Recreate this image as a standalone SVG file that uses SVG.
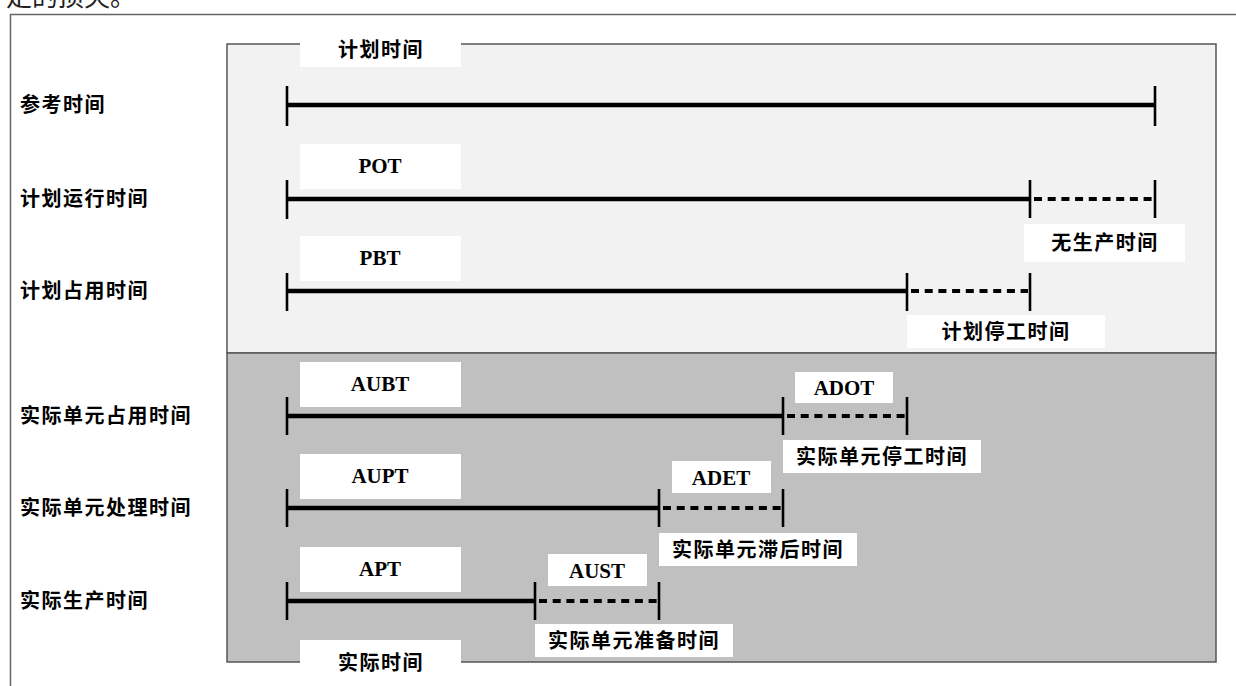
<svg xmlns="http://www.w3.org/2000/svg" width="1236" height="686" viewBox="0 0 1236 686">
<style>
.cn{font-family:"Noto Sans CJK SC","Noto Sans",sans-serif;font-size:20px;font-weight:bold;letter-spacing:1.5px;fill:#000}
.cnc{text-anchor:middle}
.en{font-family:"Liberation Serif","Times New Roman",serif;font-size:21px;font-weight:bold;fill:#000;text-anchor:middle}
.box{fill:#fff}
.solid{stroke:#000;stroke-width:4.5;fill:none}
.dot{stroke:#000;stroke-width:4;fill:none;stroke-dasharray:8 5.7}
.tick{stroke:#000;stroke-width:2.6;fill:none}
</style>
<rect x="0" y="0" width="1236" height="686" fill="#fff"/>
<text x="6" y="6" font-family="'Noto Sans CJK SC',sans-serif" font-size="26" fill="#222">定的损失。</text>
<rect id="frame" x="10.5" y="14.5" width="1240" height="700" fill="none" stroke="#666" stroke-width="1.5"/>
<g id="panel">
<rect x="227" y="44" width="989" height="309" fill="#f2f2f2" stroke="#555" stroke-width="1.5"/>
<rect x="227" y="353" width="989" height="309" fill="#c0c0c0" stroke="#555" stroke-width="1.5"/>
</g>
<g id="row-labels">
<text class="cn" x="20" y="112">参考时间</text>
<text class="cn" x="20" y="206">计划运行时间</text>
<text class="cn" x="20" y="298">计划占用时间</text>
<text class="cn" x="20" y="423">实际单元占用时间</text>
<text class="cn" x="20" y="515">实际单元处理时间</text>
<text class="cn" x="20" y="608">实际生产时间</text>
</g>
<g id="connectors">
<line class="solid" x1="287" y1="105" x2="1155" y2="105"/>
<line class="tick" x1="287" y1="86" x2="287" y2="126"/>
<line class="tick" x1="1155" y1="86" x2="1155" y2="126"/>
<line class="solid" x1="287" y1="199" x2="1030" y2="199"/>
<line class="dot" x1="1034" y1="199" x2="1152" y2="199"/>
<line class="tick" x1="287" y1="180" x2="287" y2="219"/>
<line class="tick" x1="1030" y1="180" x2="1030" y2="218"/>
<line class="tick" x1="1155" y1="180" x2="1155" y2="218"/>
<line class="solid" x1="287" y1="291" x2="907" y2="291"/>
<line class="dot" x1="911" y1="291" x2="1028" y2="291"/>
<line class="tick" x1="287" y1="273" x2="287" y2="311"/>
<line class="tick" x1="907" y1="273" x2="907" y2="311"/>
<line class="tick" x1="1030" y1="273" x2="1030" y2="311"/>
<line class="solid" x1="287" y1="416" x2="783" y2="416"/>
<line class="dot" x1="787" y1="416" x2="905" y2="416"/>
<line class="tick" x1="287" y1="397" x2="287" y2="435"/>
<line class="tick" x1="783" y1="397" x2="783" y2="435"/>
<line class="tick" x1="907" y1="397" x2="907" y2="435"/>
<line class="solid" x1="287" y1="508" x2="659" y2="508"/>
<line class="dot" x1="663" y1="508" x2="781" y2="508"/>
<line class="tick" x1="287" y1="489" x2="287" y2="527"/>
<line class="tick" x1="659" y1="489" x2="659" y2="527"/>
<line class="tick" x1="783" y1="489" x2="783" y2="527"/>
<line class="solid" x1="287" y1="601" x2="535" y2="601"/>
<line class="dot" x1="539" y1="601" x2="657" y2="601"/>
<line class="tick" x1="287" y1="582" x2="287" y2="620"/>
<line class="tick" x1="535" y1="582" x2="535" y2="620"/>
<line class="tick" x1="659" y1="582" x2="659" y2="620"/>
</g>
<g id="plan-time"><rect class="box" x="300" y="30" width="161" height="37"/><text class="cn cnc" x="381" y="57">计划时间</text></g>
<g id="actual-time"><rect class="box" x="300" y="640" width="161" height="46"/><text class="cn cnc" x="381" y="670">实际时间</text></g>
<g id="pot"><rect class="box" x="300" y="144" width="161" height="45"/><text class="en" x="380" y="173">POT</text></g>
<g id="pbt"><rect class="box" x="300" y="236" width="161" height="45"/><text class="en" x="380" y="265">PBT</text></g>
<g id="aubt"><rect class="box" x="300" y="362" width="161" height="45"/><text class="en" x="380" y="391">AUBT</text></g>
<g id="aupt"><rect class="box" x="300" y="454" width="161" height="45"/><text class="en" x="380" y="483">AUPT</text></g>
<g id="apt"><rect class="box" x="300" y="547" width="161" height="45"/><text class="en" x="380" y="576">APT</text></g>
<g id="adot"><rect class="box" x="795" y="372" width="98" height="31"/><text class="en" x="844" y="395">ADOT</text></g>
<g id="adet"><rect class="box" x="672" y="461" width="99" height="32"/><text class="en" x="721" y="485">ADET</text></g>
<g id="aust"><rect class="box" x="548" y="554" width="99" height="32"/><text class="en" x="597" y="578">AUST</text></g>
<g id="no-production"><rect class="box" x="1024" y="224" width="161" height="38"/><text class="cn cnc" x="1105" y="250">无生产时间</text></g>
<g id="planned-downtime"><rect class="box" x="907" y="315" width="198" height="33"/><text class="cn cnc" x="1006" y="339">计划停工时间</text></g>
<g id="unit-downtime"><rect class="box" x="783" y="440" width="198" height="33"/><text class="cn cnc" x="882" y="464">实际单元停工时间</text></g>
<g id="unit-delay"><rect class="box" x="659" y="533" width="198" height="33"/><text class="cn cnc" x="758" y="557">实际单元滞后时间</text></g>
<g id="unit-setup"><rect class="box" x="535" y="624" width="198" height="33"/><text class="cn cnc" x="634" y="648">实际单元准备时间</text></g>
</svg>
